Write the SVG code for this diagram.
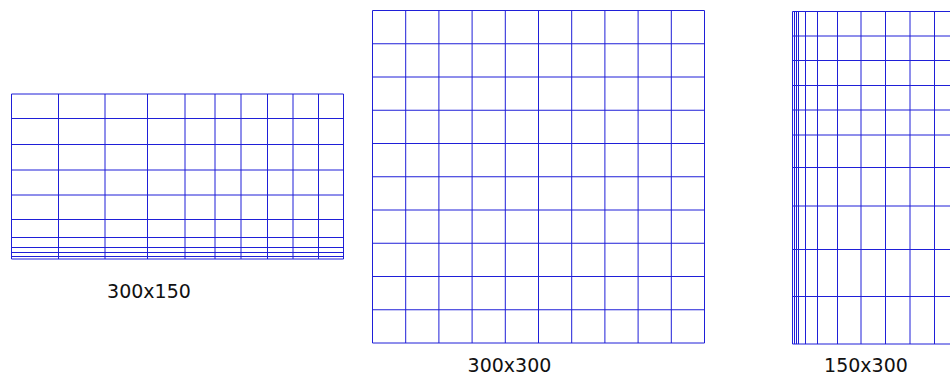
<svg xmlns="http://www.w3.org/2000/svg" width="950" height="376" viewBox="0 0 950 376">
<style>
.g{fill:none;stroke:#1f1fd8;stroke-width:1}
.lbl{font-family:"DejaVu Sans","Liberation Sans",sans-serif;font-size:19px;fill:#111;text-anchor:middle}
</style>
<rect width="950" height="376" fill="#fff"/>
<g id="grid-300x150">
<path class="g" d="M11.5,94V259M58.5,94V259M105,94V259M147.5,94V259M185,94V259M215,94V259M241,94V259M267.5,94V259M293,94V259M318.5,94V259M343.5,94V259"/>
<path class="g" d="M11.5,94H343.5M11.5,118.5H343.5M11.5,144.5H343.5M11.5,170H343.5M11.5,195H343.5M11.5,219.5H343.5M11.5,237.5H343.5M11.5,247.5H343.5M11.5,252.5H343.5M11.5,256.5H343.5M11.5,259H343.5"/>
<text class="lbl" x="149" y="298">300x150</text>
</g>
<g id="grid-300x300">
<path class="g" d="M372.5,10.5V343M405.7,10.5V343M438.9,10.5V343M472.1,10.5V343M505.3,10.5V343M538.5,10.5V343M571.7,10.5V343M604.9,10.5V343M638.1,10.5V343M671.3,10.5V343M704.5,10.5V343"/>
<path class="g" d="M372.5,10.5H704.5M372.5,43.75H704.5M372.5,77H704.5M372.5,110.25H704.5M372.5,143.5H704.5M372.5,176.75H704.5M372.5,210H704.5M372.5,243.25H704.5M372.5,276.5H704.5M372.5,309.75H704.5M372.5,343H704.5"/>
<text class="lbl" x="509.5" y="372">300x300</text>
</g>
<g id="grid-150x300">
<path class="g" d="M792.5,11.5V344M794.5,11.5V344M796.5,11.5V344M798.5,11.5V344M805.5,11.5V344M817.5,11.5V344M837.5,11.5V344M861,11.5V344M885.5,11.5V344M910,11.5V344M934.5,11.5V344M959,11.5V344"/>
<path class="g" d="M792.5,11.5H960M792.5,36H960M792.5,60.5H960M792.5,85.5H960M792.5,110H960M792.5,135H960M792.5,167.5H960M792.5,206H960M792.5,249.5H960M792.5,296.5H960M792.5,344H960"/>
<text class="lbl" x="866" y="371.5">150x300</text>
</g>
</svg>
